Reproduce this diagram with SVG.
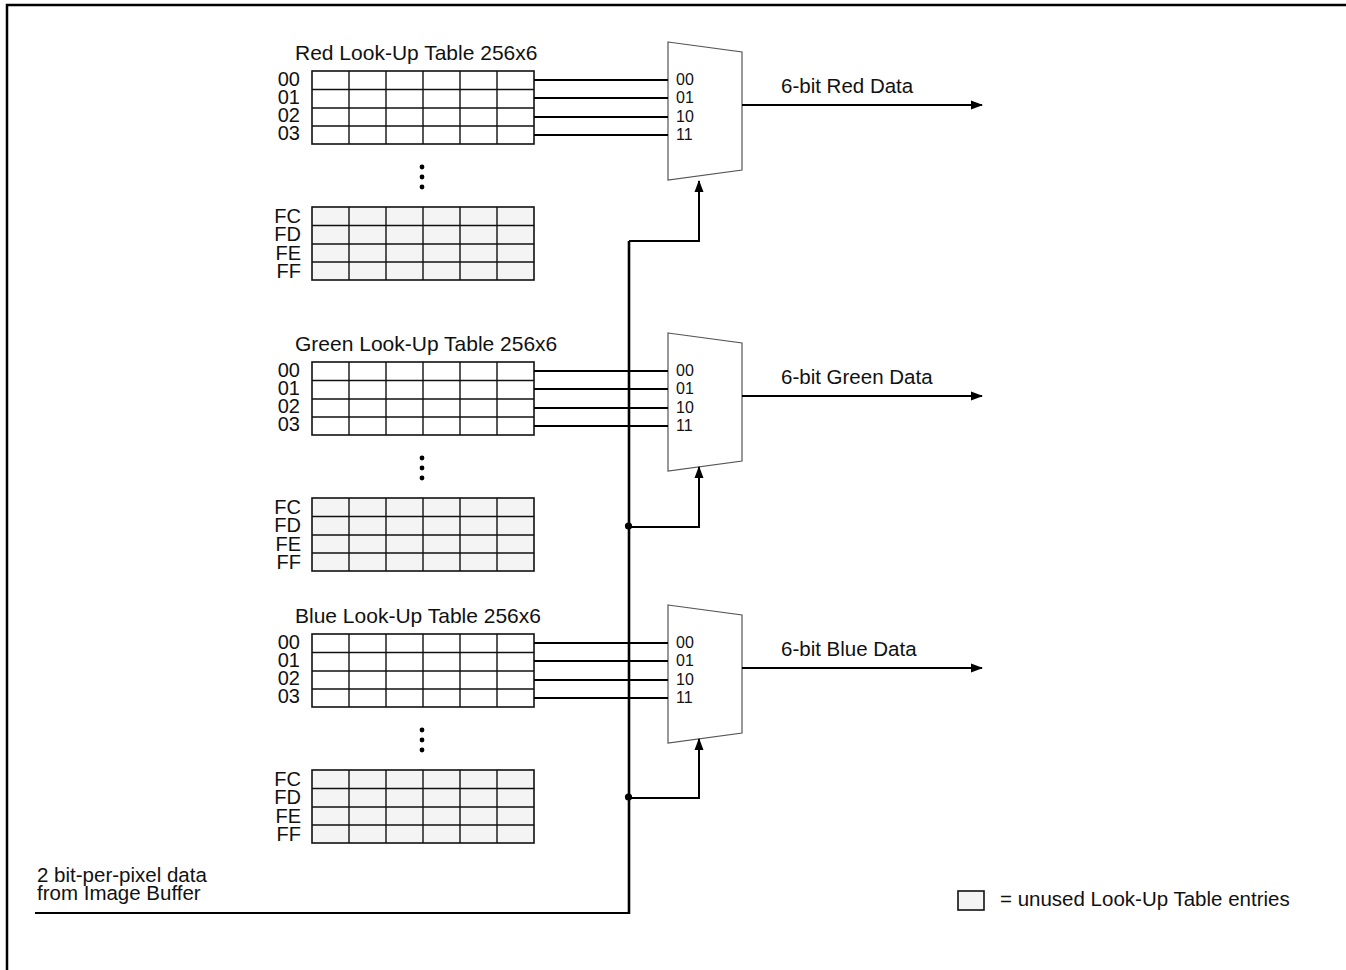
<svg xmlns="http://www.w3.org/2000/svg" width="1346" height="970" viewBox="0 0 1346 970">
<style>
  text { font-family: "Liberation Sans", Arial, sans-serif; fill: #111; }
  .title { font-size: 21px; }
  .row { font-size: 20px; text-anchor: end; }
  .mux { font-size: 16px; }
  .lbl { font-size: 20.5px; }
  .tbl { fill: #fff; stroke: #111; stroke-width: 1.6; }
  .unused { fill: #f4f4f4; stroke: #111; stroke-width: 1.6; }
  .grid { stroke: #111; stroke-width: 1.4; fill: none; }
  .muxbody { fill: #fff; stroke: #555; stroke-width: 1.2; }
  .wire { stroke: #000; stroke-width: 2; fill: none; }
  .bus { stroke: #000; stroke-width: 2.6; fill: none; }
</style>
<defs>
  <marker id="arr" markerWidth="12" markerHeight="12" refX="11" refY="6" orient="auto" markerUnits="userSpaceOnUse">
    <path d="M0,1.5 L12,6 L0,10.5 Z" fill="#000"/>
  </marker>
</defs>
<rect x="0" y="0" width="1346" height="970" fill="#fff"/>
<path d="M7,975 V5 H1350" fill="none" stroke="#000" stroke-width="2.5"/>

<!-- RED -->
<g id="red-lut">
  <text class="title" x="295" y="60">Red Look-Up Table 256x6</text>
  <rect class="tbl" x="312" y="71" width="222" height="73"/>
  <path class="grid" d="M312,89.5H534M312,108H534M312,126H534M349,71V144M386,71V144M423,71V144M460,71V144M497,71V144"/>
  <text class="row" x="300" y="86">00</text>
  <text class="row" x="300" y="104">01</text>
  <text class="row" x="300" y="122">02</text>
  <text class="row" x="300" y="140">03</text>
  <circle cx="422" cy="167" r="2.4" fill="#000"/>
  <circle cx="422" cy="177" r="2.4" fill="#000"/>
  <circle cx="422" cy="187" r="2.4" fill="#000"/>
  <rect class="unused" x="312" y="207" width="222" height="73"/>
  <path class="grid" d="M312,225.5H534M312,244H534M312,262H534M349,207V280M386,207V280M423,207V280M460,207V280M497,207V280"/>
  <text class="row" x="301" y="223">FC</text>
  <text class="row" x="301" y="241">FD</text>
  <text class="row" x="301" y="260">FE</text>
  <text class="row" x="301" y="278">FF</text>
</g>
<g id="red-mux">
  <polygon class="muxbody" points="668,42 742,52 742,170 668,180"/>
  <text class="mux" x="676" y="85">00</text>
  <text class="mux" x="676" y="103">01</text>
  <text class="mux" x="676" y="122">10</text>
  <text class="mux" x="676" y="140">11</text>
</g>
<text id="red-out-label" class="lbl" x="781" y="93">6-bit Red Data</text>

<!-- GREEN -->
<g id="green-lut" transform="translate(0,291)">
  <text class="title" x="295" y="60">Green Look-Up Table 256x6</text>
  <rect class="tbl" x="312" y="71" width="222" height="73"/>
  <path class="grid" d="M312,89.5H534M312,108H534M312,126H534M349,71V144M386,71V144M423,71V144M460,71V144M497,71V144"/>
  <text class="row" x="300" y="86">00</text>
  <text class="row" x="300" y="104">01</text>
  <text class="row" x="300" y="122">02</text>
  <text class="row" x="300" y="140">03</text>
  <circle cx="422" cy="167" r="2.4" fill="#000"/>
  <circle cx="422" cy="177" r="2.4" fill="#000"/>
  <circle cx="422" cy="187" r="2.4" fill="#000"/>
  <rect class="unused" x="312" y="207" width="222" height="73"/>
  <path class="grid" d="M312,225.5H534M312,244H534M312,262H534M349,207V280M386,207V280M423,207V280M460,207V280M497,207V280"/>
  <text class="row" x="301" y="223">FC</text>
  <text class="row" x="301" y="241">FD</text>
  <text class="row" x="301" y="260">FE</text>
  <text class="row" x="301" y="278">FF</text>
</g>
<g id="green-mux" transform="translate(0,291)">
  <polygon class="muxbody" points="668,42 742,52 742,170 668,180"/>
  <text class="mux" x="676" y="85">00</text>
  <text class="mux" x="676" y="103">01</text>
  <text class="mux" x="676" y="122">10</text>
  <text class="mux" x="676" y="140">11</text>
</g>
<text id="green-out-label" class="lbl" x="781" y="384">6-bit Green Data</text>

<!-- BLUE -->
<g id="blue-lut" transform="translate(0,563)">
  <text class="title" x="295" y="60">Blue Look-Up Table 256x6</text>
  <rect class="tbl" x="312" y="71" width="222" height="73"/>
  <path class="grid" d="M312,89.5H534M312,108H534M312,126H534M349,71V144M386,71V144M423,71V144M460,71V144M497,71V144"/>
  <text class="row" x="300" y="86">00</text>
  <text class="row" x="300" y="104">01</text>
  <text class="row" x="300" y="122">02</text>
  <text class="row" x="300" y="140">03</text>
  <circle cx="422" cy="167" r="2.4" fill="#000"/>
  <circle cx="422" cy="177" r="2.4" fill="#000"/>
  <circle cx="422" cy="187" r="2.4" fill="#000"/>
  <rect class="unused" x="312" y="207" width="222" height="73"/>
  <path class="grid" d="M312,225.5H534M312,244H534M312,262H534M349,207V280M386,207V280M423,207V280M460,207V280M497,207V280"/>
  <text class="row" x="301" y="223">FC</text>
  <text class="row" x="301" y="241">FD</text>
  <text class="row" x="301" y="260">FE</text>
  <text class="row" x="301" y="278">FF</text>
</g>
<g id="blue-mux" transform="translate(0,563)">
  <polygon class="muxbody" points="668,42 742,52 742,170 668,180"/>
  <text class="mux" x="676" y="85">00</text>
  <text class="mux" x="676" y="103">01</text>
  <text class="mux" x="676" y="122">10</text>
  <text class="mux" x="676" y="140">11</text>
</g>
<text id="blue-out-label" class="lbl" x="781" y="656">6-bit Blue Data</text>

<!-- input label -->
<g id="input-label">
  <text class="lbl" x="37" y="882">2 bit-per-pixel data</text>
  <text class="lbl" x="37" y="900">from Image Buffer</text>
</g>

<!-- legend -->
<g id="legend">
  <rect class="unused" x="958" y="891" width="26" height="19" stroke-width="1.2"/>
  <text class="lbl" x="1000" y="906">= unused Look-Up Table entries</text>
</g>

<!-- connectors -->
<g id="connectors">
  <path class="wire" d="M534,80H668M534,98H668M534,117H668M534,135H668"/>
  <path class="wire" d="M534,371H668M534,389H668M534,408H668M534,426H668"/>
  <path class="wire" d="M534,643H668M534,661H668M534,680H668M534,698H668"/>
  <path class="wire" d="M742,105H982" marker-end="url(#arr)"/>
  <path class="wire" d="M742,396H982" marker-end="url(#arr)"/>
  <path class="wire" d="M742,668H982" marker-end="url(#arr)"/>
  <path class="wire" d="M35,913H629"/>
  <path class="bus" d="M629,914V241"/>
  <path class="wire" d="M629,241H699V181" marker-end="url(#arr)"/>
  <path class="wire" d="M629,527H699V467" marker-end="url(#arr)"/>
  <path class="wire" d="M629,798H699V739" marker-end="url(#arr)"/>
  <circle cx="628.5" cy="526" r="3.6" fill="#000"/>
  <circle cx="628.5" cy="797" r="3.6" fill="#000"/>
</g>
</svg>
